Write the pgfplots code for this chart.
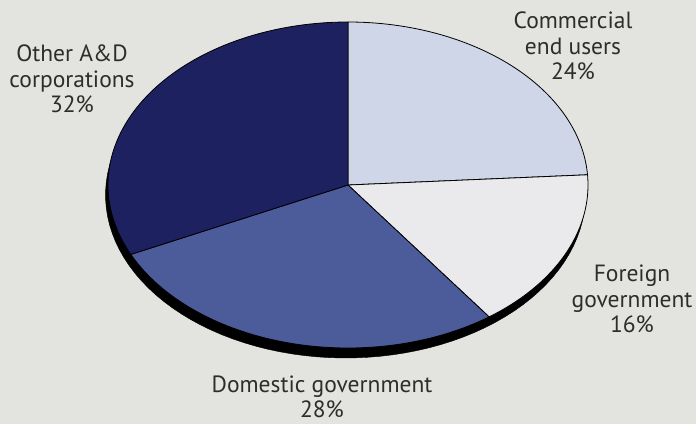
\documentclass[border=0pt]{standalone}
\usepackage{pgfplots}
\usepackage{pgfplotstable}
\pgfplotsset{compat=1.18}
\usepackage{fontspec}
\setmainfont{PT Sans}
\definecolor{bg}{RGB}{227,227,224}
\definecolor{cCom}{RGB}{207,214,231}
\definecolor{cFor}{RGB}{234,234,236}
\definecolor{cDom}{RGB}{76,91,153}
\definecolor{cOth}{RGB}{29,33,95}
\definecolor{txt}{RGB}{45,45,45}
\pgfplotstableread{
label share
Commercial 24
Foreign 16
Domestic 28
Other 32
}\piedata
\begin{document}
\begin{tikzpicture}
\pgfplotstablegetelem{0}{share}\of\piedata \let\sA\pgfplotsretval
\pgfplotstablegetelem{1}{share}\of\piedata \let\sB\pgfplotsretval
\pgfplotstablegetelem{2}{share}\of\piedata \let\sC\pgfplotsretval
\pgfplotstablegetelem{3}{share}\of\piedata \let\sD\pgfplotsretval
\pgfmathsetmacro{\aA}{90}
\pgfmathsetmacro{\aB}{\aA-3.6*\sA}
\pgfmathsetmacro{\aC}{\aB-3.6*\sB}
\pgfmathsetmacro{\aD}{\aC-3.6*\sC}
\pgfmathsetmacro{\aE}{\aD-3.6*\sD}
\begin{axis}[
  width=696pt, height=424pt, scale only axis,
  xmin=0, xmax=696, ymin=0, ymax=424,
  axis lines=none, clip=false,
  every axis plot/.append style={samples=120, variable=\t},
]
\fill[bg] (axis cs:0,0) rectangle (axis cs:696,424);
% shadow
\addplot[fill=black, draw=black, domain=0:360] ({345.5+240*cos(\t)},{229+163*sin(\t)});
% wedges
\addplot[fill=cCom, draw=black, line width=0.8pt, domain=\aB:\aA] ({348+240*cos(\t)},{239+163*sin(\t)}) -- (axis cs:348,239) -- cycle;
\addplot[fill=cFor, draw=black, line width=0.8pt, domain=\aC:\aB] ({348+240*cos(\t)},{239+163*sin(\t)}) -- (axis cs:348,239) -- cycle;
\addplot[fill=cDom, draw=black, line width=0.8pt, domain=\aD:\aC] ({348+240*cos(\t)},{239+163*sin(\t)}) -- (axis cs:348,239) -- cycle;
\addplot[fill=cOth, draw=black, line width=0.8pt, domain=\aE:\aD] ({348+240*cos(\t)},{239+163*sin(\t)}) -- (axis cs:348,239) -- cycle;
% labels
\begin{scope}[every node/.style={text=txt, align=center, font=\fontsize{23.5}{25.5}\selectfont, inner sep=0pt}]
\node at (axis cs:72,345) {Other A\&D\\corporations\\\sD\%};
\node at (axis cs:573,378) {Commercial\\end users\\\sA\%};
\node at (axis cs:632,125) {Foreign\\government\\\sB\%};
\node at (axis cs:322,27) {Domestic government\\\sC\%};
\end{scope}
\end{axis}
\end{tikzpicture}
\end{document}
